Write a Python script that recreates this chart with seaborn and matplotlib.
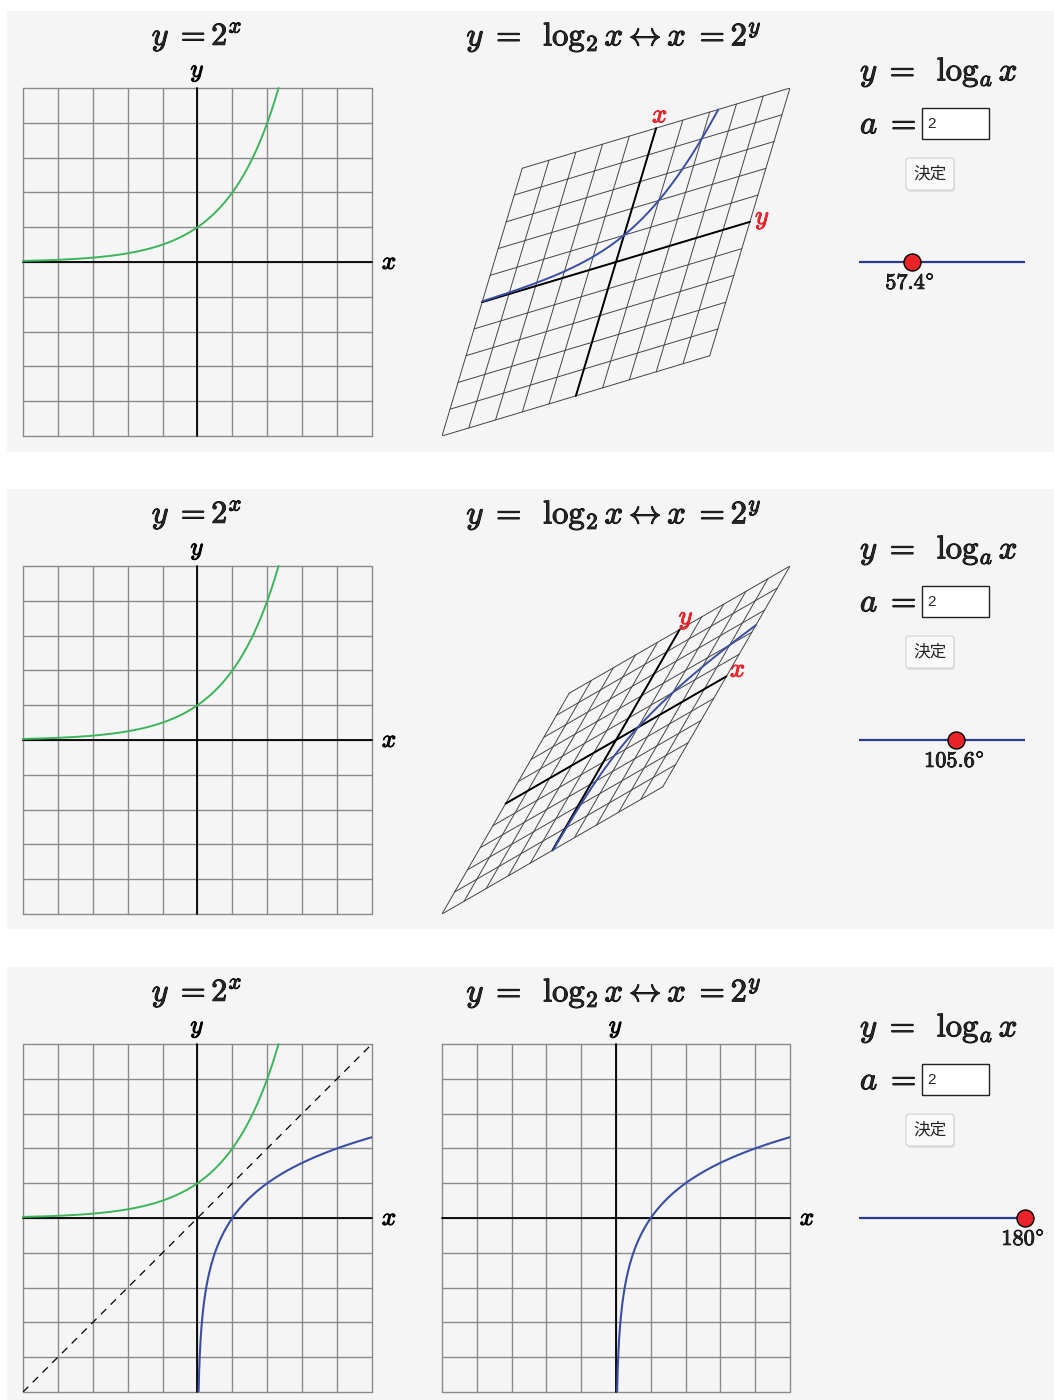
import numpy as np
import matplotlib
matplotlib.use("Agg")
import matplotlib.pyplot as plt
import matplotlib.patheffects as pe
from matplotlib.patches import Rectangle, FancyBboxPatch
import seaborn as sns

# Rotation angle of the plane about the line y = x, one value per row (degrees)
angles = [57.4, 105.6, 180.0]
# Base of the logarithm / exponential
base = 2
# Visible window of every coordinate grid
grid_lo, grid_hi = -5, 5
grid_ticks = list(range(grid_lo, grid_hi + 1))
# Range of the angle slider
slider_lo, slider_hi = 0, 180

title_exp = r"$y\;{=}2^{x}$"
title_mid = r"$y\;=\;\;\log_{2}x\leftrightarrow x\;{=}2^{y}$"
title_right = r"$y\;=\;\;\log_{a}x$"
label_a = r"$a\;=$"
button_text = "決定"

sns.set_theme(style="white")
plt.rcParams["mathtext.fontset"] = "cm"
plt.rcParams["font.family"] = ["DejaVu Sans", "Noto Sans CJK JP"]

W, H = 1054, 1400
BG = "#f5f5f5"
GRID = "#8a8a8a"
PGRID = "#444444"
GREEN = "#3db55b"
BLUE = "#3a4ea6"
RED = "#e8232a"
SLIDER = "#2c3a8e"


def heavy(color="black", w=0.7):
    # thicken the thin Computer Modern strokes a little
    return [pe.withStroke(linewidth=w, foreground=color)]


fig = plt.figure(figsize=(W / 100, H / 100), dpi=100)
fig.patch.set_facecolor("white")

row_tops = [11, 489, 967]
row_bottoms = [452, 929, 1400]


def px_axes(x0, y0, x1, y1, z=1):
    return fig.add_axes([x0 / W, 1 - y1 / H, (x1 - x0) / W, (y1 - y0) / H], zorder=z)


def standard_grid(ax):
    ax.set_xlim(grid_lo, grid_hi)
    ax.set_ylim(grid_lo, grid_hi)
    for k in grid_ticks:
        ax.axvline(k, color=GRID, lw=1.0, clip_on=False, zorder=1)
        ax.axhline(k, color=GRID, lw=1.0, clip_on=False, zorder=1)
    ax.axvline(0, color="black", lw=1.3, clip_on=False, zorder=2)
    ax.axhline(0, color="black", lw=1.3, clip_on=False, zorder=2)
    ax.text(0, grid_hi + 0.12, "$y$", ha="center", va="bottom", fontsize=18, color="black",
            path_effects=heavy())
    ax.text(grid_hi + 0.5, 0, "$x$", ha="center", va="center", fontsize=18, color="black",
            path_effects=heavy())
    ax.axis("off")


def project(p, q, c):
    # rotate the plane about the diagonal p = q, then view it face on
    s = (np.asarray(p) + np.asarray(q)) / 2
    d = (np.asarray(p) - np.asarray(q)) / 2
    return s + c * d, s - c * d


x_exp = np.linspace(grid_lo, np.log2(grid_hi), 300)
y_exp = base ** x_exp
x_log = np.concatenate([np.geomspace(base ** float(grid_lo), 1, 300), np.linspace(1, grid_hi, 300)[1:]])
y_log = np.log(x_log) / np.log(base)

# page background panels
for top, bot in zip(row_tops, row_bottoms):
    fig.patches.append(Rectangle((7 / W, 1 - bot / H), (W - 7) / W, (bot - top) / H,
                                 transform=fig.transFigure, facecolor=BG, edgecolor="none", zorder=0))

overlay = fig.add_axes([0, 0, 1, 1], zorder=5)
overlay.set_xlim(0, W)
overlay.set_ylim(H, 0)
overlay.axis("off")
overlay.patch.set_alpha(0)

for i, (ang, top) in enumerate(zip(angles, row_tops)):
    g_top = top + 77
    g_bot = g_top + 348

    # titles
    overlay.text(197, top + 26, title_exp, ha="center", va="center", fontsize=23, path_effects=heavy())
    overlay.text(614, top + 26, title_mid, ha="center", va="center", fontsize=23.5, path_effects=heavy())

    # left: y = 2^x
    axl = px_axes(23, g_top, 372, g_bot, z=2)
    standard_grid(axl)
    sns.lineplot(x=x_exp, y=y_exp, ax=axl, color=GREEN, lw=1.4, sort=False, clip_on=False, zorder=3)
    if ang >= 180:
        sns.lineplot(x=x_log, y=y_log, ax=axl, color=BLUE, lw=1.5, sort=False, zorder=3)
        axl.plot(grid_ticks, grid_ticks, color="black", lw=0.9, ls=(0, (6, 5)), zorder=2)
    axl.set_xlim(grid_lo, grid_hi)
    axl.set_ylim(grid_lo, grid_hi)
    axl.axis("off")

    # middle: the plane turned about y = x
    axm = px_axes(442, g_top, 790, g_bot, z=2)
    c = np.cos(np.radians(ang))
    if ang >= 180:
        standard_grid(axm)
        px_, py_ = project(x_exp, y_exp, c)
        sns.lineplot(x=px_, y=py_, ax=axm, color=BLUE, lw=1.5, sort=False, zorder=3)
    else:
        axm.set_xlim(grid_lo, grid_hi)
        axm.set_ylim(grid_lo, grid_hi)
        for k in grid_ticks:
            gx, gy = project([k, k], [grid_lo, grid_hi], c)
            axm.plot(gx, gy, color=PGRID, lw=0.7, zorder=1)
            gx, gy = project([grid_lo, grid_hi], [k, k], c)
            axm.plot(gx, gy, color=PGRID, lw=0.7, zorder=1)
        ax_x, ax_y = project([grid_lo, grid_hi], [0, 0], c)
        axm.plot(ax_x, ax_y, color="black", lw=1.4, zorder=2)
        ay_x, ay_y = project([0, 0], [grid_lo, grid_hi], c)
        axm.plot(ay_x, ay_y, color="black", lw=1.4, zorder=2)
        px_, py_ = project(x_exp, y_exp, c)
        sns.lineplot(x=px_, y=py_, ax=axm, color=BLUE, lw=1.4, sort=False, zorder=3)
        # axis names at the far ends: horizontal-start axis is y, vertical-start axis is x
        for (ex, ey), name in [((ax_x[1], ax_y[1]), "$y$"), ((ay_x[1], ay_y[1]), "$x$")]:
            n = np.hypot(ex, ey)
            axm.text(ex + 0.38 * ex / n, ey + 0.38 * ey / n, name, color=RED,
                     ha="center", va="center", fontsize=19, path_effects=heavy(RED))
        axm.axis("off")

    # right: formula, input, button and slider
    overlay.text(860, top + 61, title_right, ha="left", va="center", fontsize=23.5, path_effects=heavy())
    overlay.text(860, top + 113, label_a, ha="left", va="center", fontsize=23.5, path_effects=heavy())
    overlay.add_patch(Rectangle((922, top + 97), 67, 31, facecolor="white", edgecolor="#222222", lw=1.0))
    overlay.text(927, top + 113, str(base), ha="left", va="center", fontsize=11,
                 family=["Liberation Sans", "DejaVu Sans"])
    overlay.add_patch(FancyBboxPatch((907, top + 149), 48, 32, boxstyle="round,pad=0,rounding_size=3",
                                     facecolor="#e2e2e2", edgecolor="none"))
    overlay.add_patch(FancyBboxPatch((906, top + 147), 48, 32, boxstyle="round,pad=0,rounding_size=3",
                                     facecolor="#f9f9f9", edgecolor="#d0d0d0", lw=0.8))
    overlay.text(930, top + 163, button_text, ha="center", va="center", fontsize=12,
                 family=["Noto Sans CJK JP", "DejaVu Sans"], color="#222222")

    s_y = top + 251
    axs = px_axes(859, s_y - 10, 1025, s_y + 10, z=6)
    axs.set_xlim(slider_lo, slider_hi)
    axs.set_ylim(-1, 1)
    axs.axis("off")
    axs.plot([slider_lo, slider_hi], [0, 0], color=SLIDER, lw=1.6, zorder=1)
    axs.scatter([ang], [0], s=150, color=RED, edgecolors="black", linewidths=1.0, zorder=3, clip_on=False)
    axs.annotate(f"${ang:g}^{{\\circ}}$", (ang, 0), xytext=(-2, -21), textcoords="offset pixels",
                 ha="center", va="center", fontsize=16, annotation_clip=False, path_effects=heavy(w=0.6))

fig.savefig("out.png", dpi=100, facecolor="white")
